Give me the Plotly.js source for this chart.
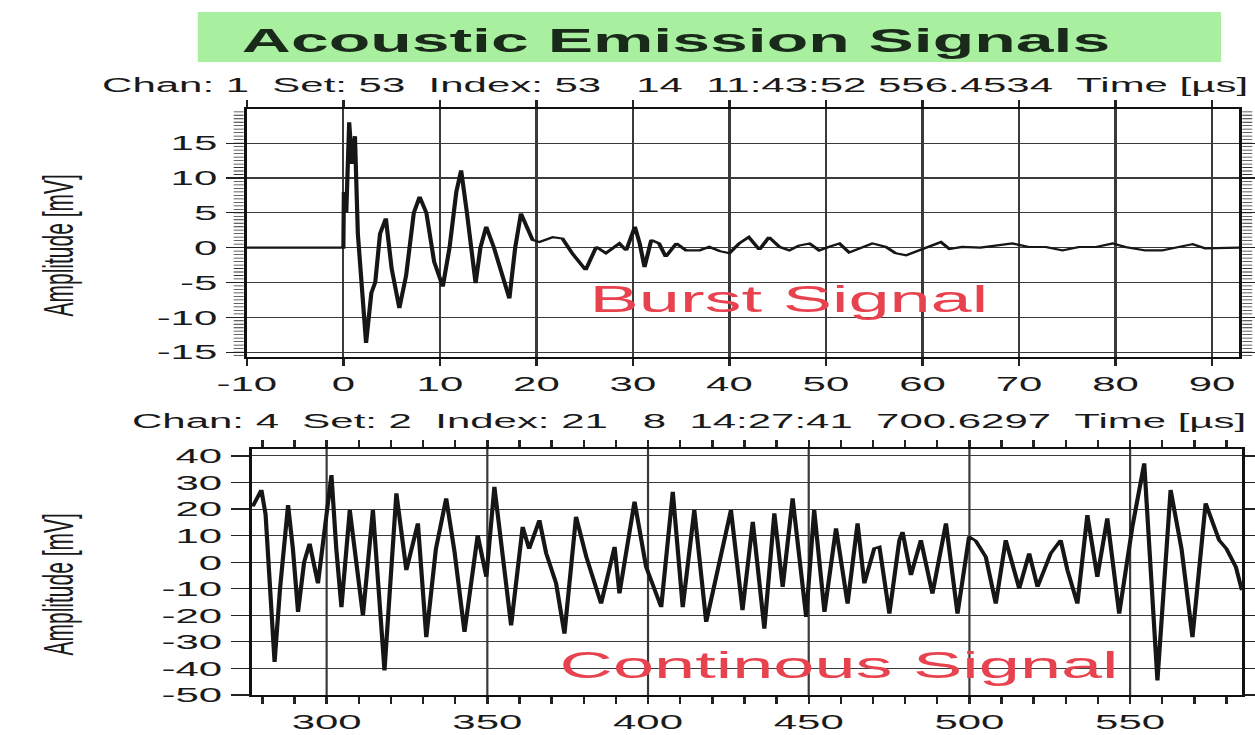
<!DOCTYPE html>
<html><head><meta charset="utf-8">
<script src="https://cdn.plot.ly/plotly-3.0.1.min.js"></script>
<style>
html,body{margin:0;padding:0;background:#fff;overflow:hidden;}
#wrap{width:1255px;height:735px;overflow:hidden;position:relative;}
#chart{width:628px;height:735px;transform:scaleX(1.99841);transform-origin:0 0;}
</style></head><body><div id="wrap"><div id="chart"></div></div>
<script>
// ---- data ----
const burstTime = [-10,0,0.05,0.3,0.6,0.9,1.2,1.5,2.35,2.9,3.3,3.8,4.4,5.0,5.8,6.5,7.3,7.9,8.6,9.4,10.3,11.0,11.7,12.2,12.8,13.7,14.2,14.8,15.6,16.5,17.2,17.8,18.4,19.0,19.6,20.3,21.7,22.7,23.7,25.1,26.2,27.2,28.6,29.3,30.2,30.7,31.2,31.9,32.7,33.4,34.5,35.5,36.9,37.9,39.0,40.0,41.0,42.0,43.1,44.1,45.2,46.2,47.2,48.3,49.3,50.3,51.4,52.4,53.8,54.8,56.2,57.2,58.3,59.6,60.7,61.9,62.8,64.1,66.0,67.6,69.3,71.0,72.8,74.5,76.2,78.0,79.7,81.0,83.1,84.8,86.6,88.0,89.3,92.8];
const burstAmp  = [0,0,8,5,18,12,16,2,-13.7,-6.5,-5,2,4.2,-3,-8.7,-4,5,7.3,5,-2,-5.6,0,8,11.1,5,-5.1,0,3.0,0,-4,-7.3,0,4.9,3,1.1,0.8,1.5,1.3,-0.8,-3.2,0.1,-0.8,0.6,-0.4,3.0,0.6,-2.8,1.1,0.6,-1.3,0.6,-0.4,-0.4,0.1,-0.5,-0.8,0.6,1.5,-0.3,1.5,0.1,-0.4,0.3,0.6,-0.4,0.1,0.6,-0.7,0.1,0.6,0.1,-0.8,-1.1,-0.4,0.1,0.8,-0.2,0.1,0,0.3,0.6,0.1,0.1,-0.4,0.1,0.1,0.6,0.1,-0.4,-0.4,0.1,0.5,-0.1,0];

const contTime = [277,279.7,281,283.8,285.5,288.0,289.5,291.1,293,294.7,297.3,299.5,301.5,303,304.6,307.2,309,311.3,314.4,316,318.0,321.7,324.8,328.4,331.0,334,337.2,339.8,342.9,347.0,349.7,352.2,354.5,357.4,361.0,363,366.2,368.3,371.4,374.0,377.6,380.8,385.4,389.6,391.1,395.8,399.4,404.1,407.7,410.8,414.4,418.1,421.2,425.8,429.4,432.6,436.2,439.3,441.9,445.0,449.2,451.7,454.9,458.5,462.1,465.2,467.3,470.4,472,475.1,478.2,479.2,481.8,484.9,488.5,492.7,496.3,499.9,502,505.1,508.2,511.3,515.5,518.6,521.2,525.3,528.4,530.5,533.6,536.7,539.8,542.9,546.6,550.7,554.4,558.5,562.6,566,569.4,573.5,577.7,580,582.9,584.8];
const contAmp  = [21,27.2,18,-37.6,-10,21.5,5,-18.7,0,7.0,-8.0,15,32.8,5,-16.9,19.6,0,-20,19.6,-5,-40.8,25.9,-3.0,14.6,-28.2,5,24.0,3.9,-26.3,10.2,-5.5,28.4,5,-23.8,13.3,5,15.8,3.4,-8.0,-26.9,17.1,2.0,-15.6,5.8,-11.8,22.8,-1.8,-16.9,26.5,-16.9,19.6,-22.5,-5.5,19.6,-18.1,15.2,-25.0,18.4,-9.3,24.0,-20.6,19.6,-18.7,12.7,-15.6,14.6,-8.0,5.2,5.8,-19.4,8.3,11.4,-4.9,8.3,-11.8,14.6,-19.4,9.6,8,2.0,-15.6,8.3,-9.9,3.3,-9.3,3.3,8.3,-3.0,-15.6,17.7,-5.5,16.5,-19.4,13.3,37.2,-44.5,27.2,5,-28.2,22.2,8.3,5,-1.8,-10.6];

const burstXTicks = [-10,0,10,20,30,40,50,60,70,80,90];
const burstXLabels = ['-10','0','10','20','30','40','50','60','70','80','90'];
const burstYTicks = [-15,-10,-5,0,5,10,15];
const burstYLabels = ['-15','-10','-5','0','5','10','15'];
const contXTicks = [280,290,300,310,320,330,340,350,360,370,380,390,400,410,420,430,440,450,460,470,480,490,500,510,520,530,540,550,560,570,580];
const contXLabels = ['','','300','','','','','350','','','','','400','','','','','450','','','','','500','','','','','550','','',''];
const contXGrid = [300,350,400,450,500,550];
const contYTicks = [-50,-40,-30,-20,-10,0,10,20,30,40];
const contYLabels = ['-50','-40','-30','-20','-10','0','10','20','30','40'];

const chartTitle = 'Acoustic Emission Signals';
const info1 = 'Chan: 1\u00a0\u00a0Set: 53\u00a0\u00a0Index: 53\u00a0\u00a0\u00a014\u00a0\u00a011:43:52 556.4534\u00a0\u00a0Time [\u00b5s]';
const info2 = 'Chan: 4\u00a0\u00a0Set: 2\u00a0\u00a0Index: 21\u00a0\u00a0\u00a08\u00a0\u00a014:27:41\u00a0\u00a0700.6297\u00a0\u00a0Time [\u00b5s]';
const yTitle = 'Amplitude [mV]';
const label1 = 'Burst Signal';
const label2 = 'Continous Signal';

// ---- figure ----
const FONT = 'Liberation Sans, Arial, sans-serif';
const lineStyle = {color:'#161616', width:2.1};
const GRIDCOLOR = '#3a3a3a';

const traces = [
  {x: burstTime, y: burstAmp, xaxis:'x', yaxis:'y', mode:'lines', line: lineStyle, hoverinfo:'skip'},
  {x: contTime, y: contAmp, xaxis:'x2', yaxis:'y2', mode:'lines', line: lineStyle, hoverinfo:'skip'}
];

const axBase = {
  showline:true, linecolor:'#111', linewidth:1.6, mirror:'allticks',
  ticks:'outside', tickcolor:'#222', tickwidth:1.2,
  showgrid:true, gridcolor:GRIDCOLOR, gridwidth:1.1, zeroline:false,
  tickfont:{family:FONT, size:21, color:'#1a1a1a'}, tickmode:'array', fixedrange:true
};

const gridShapes = contXGrid.map(v => ({type:'line', xref:'x2', yref:'y2 domain', x0:v, x1:v, y0:0, y1:1,
  line:{color:GRIDCOLOR, width:1.1}, layer:'below'}));

const layout = {
  width:628, height:735,
  margin:{l:0,r:0,t:0,b:0},
  paper_bgcolor:'#fff', plot_bgcolor:'#fff', showlegend:false,
  font:{family:FONT, color:'#222'},
  xaxis: Object.assign({}, axBase, {domain:[0.1967,0.9873], anchor:'y', range:[-10,92.8],
    tickvals:burstXTicks, ticktext:burstXLabels, ticklen:7}),
  yaxis: Object.assign({}, axBase, {domain:[0.5143,0.8517], anchor:'x', range:[-15.7,19.9],
    tickvals:burstYTicks, ticktext:burstYLabels, ticklen:9,
    minor:{tickmode:'linear', tick0:0, dtick:0.5, ticks:'outside', ticklen:5, tickwidth:0.8, tickcolor:'#333', showgrid:false}}),
  xaxis2: Object.assign({}, axBase, {domain:[0.2006,0.9896], anchor:'y2', range:[276.7,584.8],
    tickvals:contXTicks, ticktext:contXLabels, ticklen:7, showgrid:false}),
  yaxis2: Object.assign({}, axBase, {domain:[0.0544,0.3891], anchor:'x2', range:[-50,42.6],
    tickvals:contYTicks, ticktext:contYLabels, ticklen:9}),
  shapes:[
    {type:'rect', xref:'paper', yref:'paper', x0:0.1576, x1:0.973, y0:0.9156, y1:0.9837,
     fillcolor:'#a8f0a0', line:{width:0}, layer:'below'}
  ].concat(gridShapes),
  annotations:[
    {text:chartTitle, xref:'paper', yref:'paper', x:0.1895, y:0.9456, xanchor:'left', yanchor:'middle',
     showarrow:false, font:{family:FONT, size:34, color:'#1a2a1a', weight:'bold'}},
    {text:info1, xref:'paper', yref:'paper', x:0.078, y:1-84/735, xanchor:'left', yanchor:'middle',
     showarrow:false, font:{family:FONT, size:21, color:'#1a1a1a'}},
    {text:info2, xref:'paper', yref:'paper', x:128/1255, y:1-421/735, xanchor:'left', yanchor:'middle',
     showarrow:false, font:{family:FONT, size:21, color:'#1a1a1a'}},
    {text:yTitle, xref:'paper', yref:'paper', x:57/1255, y:1-246/735, xanchor:'center', yanchor:'middle',
     textangle:-90, showarrow:false, font:{family:FONT, size:21, color:'#1a1a1a'}},
    {text:yTitle, xref:'paper', yref:'paper', x:57/1255, y:1-585/735, xanchor:'center', yanchor:'middle',
     textangle:-90, showarrow:false, font:{family:FONT, size:21, color:'#1a1a1a'}},
    {text:label1, xref:'x', yref:'y', x:46.2, y:-7.5, xanchor:'center', yanchor:'middle',
     showarrow:false, font:{family:FONT, size:37, color:'#e8424f'}},
    {text:label2, xref:'x2', yref:'y2', x:459.5, y:-38.9, xanchor:'center', yanchor:'middle',
     showarrow:false, font:{family:FONT, size:37, color:'#e8424f'}}
  ]
};

Plotly.newPlot('chart', traces, layout, {staticPlot:true, displayModeBar:false});
</script></body></html>
